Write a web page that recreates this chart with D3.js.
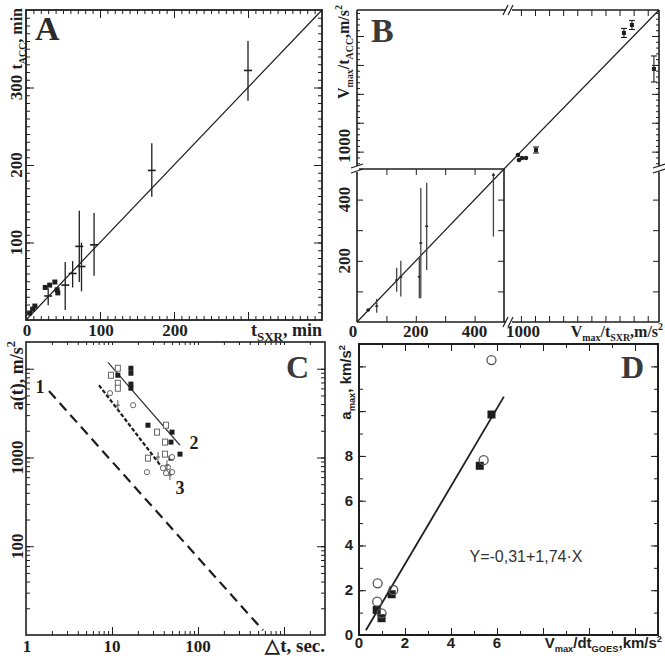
<!DOCTYPE html>
<html><head><meta charset="utf-8">
<script src="https://cdn.jsdelivr.net/npm/d3@7"></script>
<style>body{margin:0;background:#fff} svg{display:block}</style>
</head><body><script>
// ---------------- DATA ----------------
// Panel A: t_ACC vs t_SXR (min)
const aSquares = [[5,9],[9,14],[12,18],[26,42],[32,45],[39,49],[42,39],[43,35]];
const aErrPts  = [[30,31,19,41],[53,45,13,75],[63,60,42,76],[72,95,49,141],[75,69,37,100],[92,97,57,138],[170,193,159,228],[300,322,283,360]]; // x, y, lo, hi
const aFitLine = [[0,0],[400,400]];
const aXTickLabels = [0,100,200];
const aYTickLabels = [100,200,300];

// Panel B: Vmax/tACC vs Vmax/tSXR (m/s^2), broken axes
const bLowPts  = [[38,39,36,42],[67,52,30,75],[135,137,99,177],[149,147,83,200],[212,148,78,209],[217,258,78,438],[237,313,170,455],[464,480,279,487]]; // x, y, lo, hi
const bHighPts = [[2970,3191,3113,3269],[2828,3053,2975,3131],[3360,2430,2205,2655],[1267,1029,977,1081]];
const bHighDots = [[948,942],[966,856],[1019,890],[1090,890]];
const bLowFit  = [[0,0],[500,500]];
const bHighFit = [[700,700],[3450,3450]];
const bXLowLabels = [0,200,400];
const bXHighLabels = [1000];
const bYLowLabels = [200,400];
const bYHighLabels = [1000];

// Panel C: a(t) vs delta t (log-log)
const cFilled = [[11.7,8440],[16.6,10120],[16.6,8890],[16.6,6710],[16.6,6030],[26.2,2310],[49.9,1930],[48.5,1490],[61.8,1090],[48.5,982]];
const cOpenSq = [[9.73,8440],[11.7,10120],[11.7,6860],[11.7,6030],[33.4,1930],[42.5,2310],[41.3,1490],[26.2,982],[41.3,1090]];
const cCircles = [[9.48,5300],[17.6,3880],[25.5,684],[49.9,1010],[44.8,778],[49.9,684],[42.5,666],[39.2,758]];
const cCrosses = [[11.7,3880],[34.3,1010],[43.6,819],[47.2,632]];
const cLine1 = [[1.85,5600],[570,11.3]];
const cLine2 = [[8.98,11800],[61.8,1374]];
const cLine3 = [[7.06,6520],[44.8,632]];
const cXTickLabels = [1,10,100];
const cYTickLabels = [100,1000];

// Panel D: a_max vs Vmax/dt_GOES (km/s^2)
const dSquares = [[5.76,9.85],[5.25,7.56],[1.42,1.82],[0.77,1.12],[0.98,0.75]];
const dCircles = [[5.76,12.28],[5.42,7.81],[0.81,2.31],[0.79,1.49],[1.49,2.01],[0.98,0.97]];
const dFit = [[0.3,0.21],[6.3,10.65]];
const dXTickLabels = [0,2,4,6];
const dYTickLabels = [0,2,4,6,8];

// ---------------- DRAWING ----------------
const W=665,H=662;
const svg=d3.select("body").append("svg").attr("width",W).attr("height",H);
const SERIF="'Liberation Serif','Times New Roman',serif";
const SANS="'Liberation Sans',Arial,sans-serif";
const INK="#1e1e1e";

function inTicks(parent, kind, scale, values, size, pos){
  const ax={bottom:d3.axisBottom,top:d3.axisTop,left:d3.axisLeft,right:d3.axisRight}[kind](scale)
    .tickValues(values).tickSize(-size).tickSizeOuter(0).tickFormat("");
  const g=parent.append("g")
    .attr("transform",(kind==="bottom"||kind==="top")?`translate(0,${pos})`:`translate(${pos},0)`)
    .call(ax);
  g.select(".domain").remove();
  g.selectAll("line").attr("stroke",INK).attr("stroke-width",1);
  return g;
}
function rich(sel, parts, fs, subRatio){
  let cur=0;
  parts.forEach(p=>{
    const [t,type]=Array.isArray(p)?p:[p,null];
    const off = type==="sub"? fs*0.28 : type==="sup"? -fs*0.42 : 0;
    const ts=sel.append("tspan").text(t).attr("dy", off-cur);
    if(type) ts.attr("font-size", fs*(subRatio||0.62));
    cur=off;
  });
  return sel;
}
function txt(parent,x,y,s,opt={}){
  const t=parent.append("text").attr("x",x).attr("y",y)
    .attr("font-family",opt.font||SERIF).attr("font-weight",opt.weight||"bold")
    .attr("font-size",opt.size||16).attr("fill",opt.fill||INK)
    .attr("text-anchor",opt.anchor||"middle");
  if(typeof s==="string") t.text(s); else rich(t,s,opt.size||16,opt.sub);
  return t;
}
function rtxt(parent,x,y,s,opt={}){
  const t=parent.append("text").attr("transform",`translate(${x},${y}) rotate(-90)`)
    .attr("font-family",opt.font||SERIF).attr("font-weight",opt.weight||"bold")
    .attr("font-size",opt.size||16).attr("fill",opt.fill||INK)
    .attr("text-anchor",opt.anchor||"middle");
  if(typeof s==="string") t.text(s); else rich(t,s,opt.size||16,opt.sub);
  return t;
}
function seg(parent,x1,y1,x2,y2,w=1.5,col=INK){
  return parent.append("line").attr("x1",x1).attr("y1",y1).attr("x2",x2).attr("y2",y2)
    .attr("stroke",col).attr("stroke-width",w);
}

// ===== Panel A =====
{
  const x=d3.scaleLinear([0,400],[26,322]), y=d3.scaleLinear([0,400],[320,10]);
  const g=svg.append("g");
  const minor=d3.range(10,400,10), major=d3.range(100,400,100);
  inTicks(g,"bottom",x,minor,4,320); inTicks(g,"bottom",x,major,8,320);
  inTicks(g,"top",x,minor,4,10);     inTicks(g,"top",x,major,8,10);
  inTicks(g,"left",y,minor,4,26);    inTicks(g,"left",y,major,8,26);
  inTicks(g,"right",y,minor,4,322);  inTicks(g,"right",y,major,8,322);
  g.append("rect").attr("x",26).attr("y",10).attr("width",296).attr("height",310)
    .attr("fill","none").attr("stroke",INK).attr("stroke-width",1.8);
  g.append("path").datum(aFitLine).attr("fill","none").attr("stroke",INK).attr("stroke-width",1.2)
    .attr("d",d3.line().x(d=>x(d[0])).y(d=>y(d[1])));
  aErrPts.forEach(d=>{
    seg(g,x(d[0]),y(d[2]),x(d[0]),y(d[3]),1.3);
    seg(g,x(d[0])-4,y(d[1]),x(d[0])+4,y(d[1]),1.6);
  });
  g.selectAll("rect.sq").data(aSquares).join("rect").attr("class","sq")
    .attr("x",d=>x(d[0])-2.5).attr("y",d=>y(d[1])-2.5).attr("width",5).attr("height",5).attr("fill",INK);
  aXTickLabels.forEach(v=>txt(g,x(v)+1,336,String(v),{size:17}));
  aYTickLabels.forEach(v=>rtxt(g,22,y(v),String(v),{size:17}));
  txt(g,322,336,["t",["SXR","sub"],", min"],{anchor:"end",size:18,sub:0.72});
  rtxt(g,22,8,["t",["ACC","sub"],", min"],{anchor:"end",size:16,sub:0.62});
  txt(g,35,40,"A",{size:34,anchor:"start",fill:"#2a2a2a"});
}

// ===== Panel B =====
{
  const L=357,R=659,T=10,B=322,XB=504,YB=169;
  const x1=d3.scaleLinear([0,500],[L,XB]), y1=d3.scaleLinear([0,500],[B,YB]);
  const x2=d3.scaleLinear([700,3450],[XB,R]), y2=d3.scaleLinear([700,3450],[YB,T]);
  const g=svg.append("g");
  const t1=d3.range(100,500,100);
  inTicks(g,"bottom",x1,t1,6,B); inTicks(g,"top",x1,t1,6,YB);
  inTicks(g,"left",y1,t1,6,L);   inTicks(g,"right",y1,t1,6,XB);
  inTicks(g,"right",y1,t1,6,R);
  const t2x=d3.range(1000,3450,250);
  inTicks(g,"top",x2,t2x,6,T); inTicks(g,"bottom",x2,t2x,6,B);
  const t2y=d3.range(1000,3450,500), t2ym=d3.range(800,3450,100);
  inTicks(g,"left",y2,t2ym,3,L); inTicks(g,"left",y2,t2y,7,L);
  inTicks(g,"right",y2,t2ym,3,R); inTicks(g,"right",y2,t2y,7,R);
  const fw=1.6;
  seg(g,L,T,L,B,fw); seg(g,L,B,R,B,fw); seg(g,R,B,R,T,fw); seg(g,R,T,L,T,fw);
  seg(g,L,YB,XB,YB,fw); seg(g,XB,YB,XB,B,fw);
  function hBreak(cx,cy){
    g.append("rect").attr("x",cx-3).attr("y",cy-2).attr("width",6).attr("height",4).attr("fill","#fff");
    seg(g,cx-6,cy+5,cx-1,cy-5,1.2); seg(g,cx-1,cy+5,cx+4,cy-5,1.2);
  }
  function vBreak(cx,cy){
    g.append("rect").attr("x",cx-2).attr("y",cy-3).attr("width",4).attr("height",6).attr("fill","#fff");
    seg(g,cx-6,cy-1,cx+6,cy-5,1.2); seg(g,cx-6,cy+4,cx+6,cy,1.2);
  }
  hBreak(XB+5,B); hBreak(XB+5,T); vBreak(L,YB); vBreak(R,YB);
  g.append("path").datum(bLowFit).attr("fill","none").attr("stroke",INK).attr("stroke-width",1.2)
    .attr("d",d3.line().x(d=>x1(d[0])).y(d=>y1(d[1])));
  g.append("path").datum(bHighFit).attr("fill","none").attr("stroke",INK).attr("stroke-width",1.2)
    .attr("d",d3.line().x(d=>x2(d[0])).y(d=>y2(d[1])));
  bLowPts.forEach(d=>{
    seg(g,x1(d[0]),y1(d[2]),x1(d[0]),y1(d[3]),1.3,"#444");
    seg(g,x1(d[0])-1.5,y1(d[1]),x1(d[0])+1.5,y1(d[1]),1.5,"#222");
  });
  g.append("circle").attr("cx",x1(bLowPts[0][0])).attr("cy",y1(bLowPts[0][1])).attr("r",1.8).attr("fill",INK);
  bHighPts.forEach(d=>{
    const cx=x2(d[0]);
    seg(g,cx,y2(d[2]),cx,y2(d[3]),1.1);
    seg(g,cx-3,y2(d[2]),cx+3,y2(d[2]),1.1);
    seg(g,cx-3,y2(d[3]),cx+3,y2(d[3]),1.1);
    g.append("rect").attr("x",cx-2).attr("y",y2(d[1])-2).attr("width",4).attr("height",4).attr("fill",INK);
  });
  g.selectAll("circle.hd").data(bHighDots).join("circle").attr("class","hd")
    .attr("cx",d=>x2(d[0])).attr("cy",d=>y2(d[1])).attr("r",2.3).attr("fill",INK);
  bXLowLabels.forEach(v=>txt(g,x1(v)-(v===0?4:0),337,String(v),{size:17}));
  bXHighLabels.forEach(v=>txt(g,x2(v)+2,337,String(v),{size:17}));
  bYLowLabels.forEach(v=>rtxt(g,350,y1(v),String(v),{size:17}));
  bYHighLabels.forEach(v=>rtxt(g,350,y2(v)-6,String(v),{size:17}));
  txt(g,663,337,["V",["max","sub"],"/t",["SXR","sub"],",m/s",["2","sup"]],{anchor:"end"});
  rtxt(g,349,5,["V",["max","sub"],"/t",["ACC","sub"],",m/s",["2","sup"]],{anchor:"end"});
  txt(g,371,42,"B",{size:34,anchor:"start",fill:"#3a3a3a"});
}

// ===== Panel C =====
{
  const L=26,R=325,T=342,B=635;
  const x=d3.scaleLog([1,3000],[L,R]), y=d3.scaleLog([10,20000],[B,T]);
  const g=svg.append("g");
  const xAll=x.ticks().filter(v=>v>1&&v<3000), xMaj=[10,100,1000];
  const yAll=y.ticks().filter(v=>v>10&&v<20000), yMaj=[100,1000,10000];
  inTicks(g,"bottom",x,xAll,4,B); inTicks(g,"bottom",x,xMaj,8,B);
  inTicks(g,"top",x,xAll,3,T);
  inTicks(g,"left",y,yAll,4,L); inTicks(g,"left",y,yMaj,8,L);
  inTicks(g,"right",y,yAll,4,R); inTicks(g,"right",y,yMaj,8,R);
  g.append("rect").attr("x",L).attr("y",T).attr("width",R-L).attr("height",B-T)
    .attr("fill","none").attr("stroke",INK).attr("stroke-width",1.6);
  const ln=d3.line().x(d=>x(d[0])).y(d=>y(d[1]));
  g.append("path").datum(cLine1).attr("d",ln).attr("fill","none").attr("stroke",INK)
    .attr("stroke-width",2.2).attr("stroke-dasharray","10,6");
  g.append("path").datum(cLine2).attr("d",ln).attr("fill","none").attr("stroke","#333").attr("stroke-width",1.2);
  g.append("path").datum(cLine3).attr("d",ln).attr("fill","none").attr("stroke",INK)
    .attr("stroke-width",2.2).attr("stroke-dasharray","4,2");
  g.selectAll("rect.os").data(cOpenSq).join("rect").attr("class","os")
    .attr("x",d=>x(d[0])-2.5).attr("y",d=>y(d[1])-3).attr("width",5).attr("height",6)
    .attr("fill","#fff").attr("stroke","#666").attr("stroke-width",1);
  g.selectAll("rect.fs").data(cFilled).join("rect").attr("class","fs")
    .attr("x",d=>x(d[0])-2.5).attr("y",d=>y(d[1])-2.5).attr("width",5).attr("height",5).attr("fill",INK);
  g.selectAll("circle.oc").data(cCircles).join("circle").attr("class","oc")
    .attr("cx",d=>x(d[0])).attr("cy",d=>y(d[1])).attr("r",2.6)
    .attr("fill","#fff").attr("stroke","#666").attr("stroke-width",1);
  cCrosses.forEach(d=>{
    seg(g,x(d[0]),y(d[1])-5,x(d[0]),y(d[1])+5,1,"#555");
    seg(g,x(d[0])-2,y(d[1]),x(d[0])+2,y(d[1]),1,"#555");
  });
  txt(g,40,393,"1",{size:18}); txt(g,194,449,"2",{size:18}); txt(g,180,494,"3",{size:18});
  cXTickLabels.forEach(v=>txt(g,x(v)+(v===1?1:0),652,String(v),{size:17}));
  cYTickLabels.forEach(v=>rtxt(g,23,y(v),String(v),{size:17}));
  txt(g,325,652,"△t, sec.",{anchor:"end",size:19});
  rtxt(g,23,341,["a(t), m/s",["2","sup"]],{anchor:"end",size:18,sub:0.7});
  txt(g,286,378,"C",{size:32,anchor:"start",fill:"#3a3a3a"});
}

// ===== Panel D =====
{
  const L=359,R=658,T=344,B=635;
  const x=d3.scaleLinear([0,13],[L,R]), y=d3.scaleLinear([0,13],[B,T]);
  const g=svg.append("g");
  const all=d3.range(1,13,1), maj=d3.range(2,13,2);
  inTicks(g,"bottom",x,all,4,B); inTicks(g,"bottom",x,maj,7,B);
  inTicks(g,"top",x,all,4,T);    inTicks(g,"top",x,maj,7,T);
  inTicks(g,"left",y,all,4,L);   inTicks(g,"left",y,maj,7,L);
  inTicks(g,"right",y,all,4,R);  inTicks(g,"right",y,maj,7,R);
  g.append("rect").attr("x",L).attr("y",T).attr("width",R-L).attr("height",B-T)
    .attr("fill","none").attr("stroke",INK).attr("stroke-width",2);
  g.append("path").datum(dFit).attr("fill","none").attr("stroke",INK).attr("stroke-width",1.8)
    .attr("d",d3.line().x(d=>x(d[0])).y(d=>y(d[1])));
  g.selectAll("rect.ds").data(dSquares).join("rect").attr("class","ds")
    .attr("x",d=>x(d[0])-4).attr("y",d=>y(d[1])-4).attr("width",8).attr("height",8).attr("fill",INK);
  g.selectAll("circle.dc").data(dCircles).join("circle").attr("class","dc")
    .attr("cx",d=>x(d[0])).attr("cy",d=>y(d[1])).attr("r",4.5)
    .attr("fill","none").attr("stroke","#555").attr("stroke-width",1.3);
  dXTickLabels.forEach(v=>txt(g,x(v),648,String(v),{font:SANS,size:15}));
  dYTickLabels.forEach(v=>txt(g,353,y(v)+5,String(v),{font:SANS,size:15,anchor:"end"}));
  txt(g,662,648,["V",["max","sub"],"/dt",["GOES","sub"],",km/s",["2","sup"]],{font:SANS,size:15,anchor:"end"});
  rtxt(g,351,345,["a",["max","sub"],", km/s",["2","sup"]],{font:SANS,size:15,anchor:"end"});
  txt(g,526,562,"Y=-0,31+1,74·X",{font:SANS,weight:"normal",size:16,fill:"#333"});
  txt(g,621,378,"D",{size:32,anchor:"start",fill:"#3a3a3a"});
}
</script></body></html>
